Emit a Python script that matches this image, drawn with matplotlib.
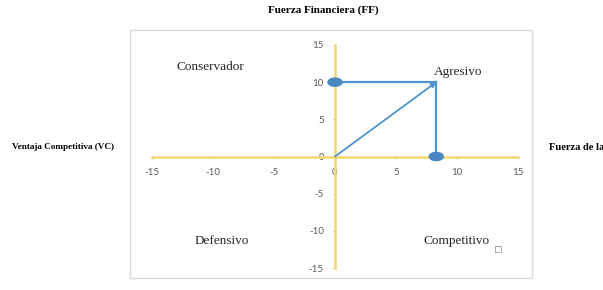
import matplotlib
matplotlib.use("Agg")
import matplotlib.pyplot as plt
from matplotlib.patches import Ellipse, Rectangle

# data
ticks = [-15, -10, -5, 0, 5, 10, 15]
point_x = 8.3   # Fuerza de la Industria
point_y = 10    # Fuerza Financiera
quadrants = ["Conservador", "Agresivo", "Defensivo", "Competitivo"]
quad_pos = [(-10.2, 12.0), (10.1, 11.4), (-9.3, -11.4), (10.0, -11.4)]

yellow = "#F5D76E"
blue = "#4F93D0"
serif = ["Liberation Serif", "DejaVu Serif"]
plt.rcParams["axes.unicode_minus"] = False

fig = plt.figure(figsize=(6.03, 2.90), dpi=100)
fig.patch.set_facecolor("white")

# light frame around the chart area
fig.add_artist(Rectangle((130 / 603, 12 / 290), 402 / 603, 248 / 290,
                         transform=fig.transFigure, fill=False,
                         edgecolor="#DADADA", lw=1.0))

ax = fig.add_axes([152 / 603, 22 / 290, 366 / 603, 223 / 290])
ax.set_xlim(-15, 15)
ax.set_ylim(-15, 15)
ax.patch.set_alpha(0)
for s in ["top", "right"]:
    ax.spines[s].set_visible(False)
for s in ["left", "bottom"]:
    ax.spines[s].set_position(("data", 0))
    ax.spines[s].set_color(yellow)
    ax.spines[s].set_linewidth(1.8)
ax.set_xticks(ticks)
ax.set_yticks(ticks)
ax.tick_params(length=2, width=0.6, color="#D8D8D8", labelsize=7,
               labelcolor="#595959", pad=6)
for lab in ax.get_xticklabels() + ax.get_yticklabels():
    lab.set_family(["Lato", "DejaVu Sans"])

# lines to the point and the vector from origin
ax.plot([0, point_x], [point_y, point_y], color=blue, lw=1.6)
ax.plot([point_x, point_x], [point_y, 0], color=blue, lw=1.6)
ax.annotate("", xy=(point_x, point_y), xytext=(0, 0),
            arrowprops=dict(arrowstyle="-|>", color=blue, lw=1.3,
                            mutation_scale=7, shrinkA=0, shrinkB=0))
for cx, cy in [(0, point_y), (point_x, 0)]:
    ax.add_patch(Ellipse((cx, cy), 1.15, 1.1, color="#4A87C2", zorder=5,
                         clip_on=False))

for name, (qx, qy) in zip(quadrants, quad_pos):
    ax.text(qx, qy, name, ha="center", va="center", fontsize=9.5,
            family=serif, color="#262626")
ax.add_patch(Rectangle((13.1, -12.9), 0.5, 0.8, fill=False,
                       edgecolor="#9A9A9A", lw=0.6, clip_on=False))

fig.text(323 / 603, 1 - 10 / 290, "Fuerza Financiera (FF)", ha="center",
         va="center", fontsize=8, fontweight="bold", family=serif)
fig.text(114 / 603, 1 - 147 / 290, "Ventaja Competitiva (VC)", ha="right",
         va="center", fontsize=6.6, fontweight="bold", family=serif)
fig.text(549 / 603, 1 - 148 / 290, "Fuerza de la", ha="left",
         va="center", fontsize=7.6, fontweight="bold", family=serif)

fig.savefig("out.png", dpi=100)
